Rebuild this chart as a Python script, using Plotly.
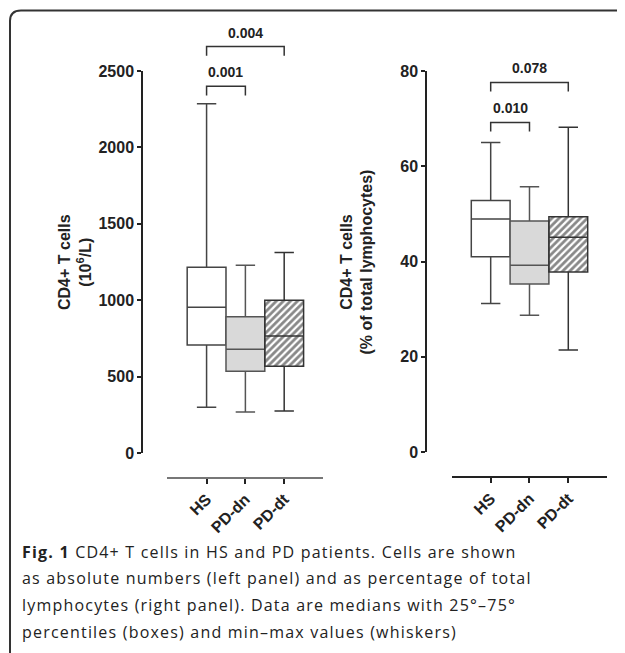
import plotly.graph_objects as go

W, H = 625, 653
OFF = 8  # page body margin in the browser

# ---------------- data ----------------
groups = ["HS", "PD-dn", "PD-dt"]

# left panel: CD4+ T cells (10^6/L)
abs_min = [299, 268, 275]
abs_q1 = [707, 535, 568]
abs_med = [954, 679, 766]
abs_q3 = [1216, 891, 1000]
abs_max = [2285, 1229, 1312]

# right panel: CD4+ T cells (% of total lymphocytes)
pct_min = [31.2, 28.7, 21.4]
pct_q1 = [41.0, 35.3, 37.8]
pct_med = [48.9, 39.2, 45.1]
pct_q3 = [52.8, 48.5, 49.4]
pct_max = [65.0, 55.7, 68.2]

# significance brackets
abs_pairs = [("HS", "PD-dn"), ("HS", "PD-dt")]
abs_pvals = ["0.001", "0.004"]
abs_levels = [2400, 2660]
pct_pairs = [("HS", "PD-dn"), ("HS", "PD-dt")]
pct_pvals = ["0.010", "0.078"]
pct_levels = [69.2, 77.6]

abs_ticks = [0, 500, 1000, 1500, 2000, 2500]
pct_ticks = [0, 20, 40, 60, 80]

caption_lines = [
    "<b>Fig. 1</b> CD4+ T cells in HS and PD patients. Cells are shown",
    "as absolute numbers (left panel) and as percentage of total",
    "lymphocytes (right panel). Data are medians with 25°–75°",
    "percentiles (boxes) and min–max values (whiskers)",
]

# ---------------- styling ----------------
FONT = "Liberation Sans, Arial, sans-serif"
fills = ["white", "#d9d9d9", "rgba(0,0,0,0)"]
lines = ["#444444", "#555555", "#333333"]


def px(x):
    return (x - OFF) / W


def py(y):
    return (H - (y - OFF)) / H


fig = go.Figure()


def add_panel(n, mins, q1s, meds, q3s, maxs, pairs, pvals, levels, leg):
    xref, yref = ("x", "y") if n == 1 else ("x%d" % n, "y%d" % n)
    bx, by = "x%d" % (n + 2), "y%d" % (n + 2)
    for i, g in enumerate(groups):
        if i == 2:
            fig.add_trace(go.Bar(
                x=[g], y=[q3s[i] - q1s[i]], base=[q1s[i]], width=1.0,
                marker=dict(color="white", line=dict(width=0),
                            pattern=dict(shape="/", fgcolor="#111111",
                                         bgcolor="white", size=5, solidity=0.55)),
                xaxis=xref, yaxis=yref, showlegend=False, hoverinfo="skip"))
        fig.add_trace(go.Box(
            x=[g], q1=[q1s[i]], median=[meds[i]], q3=[q3s[i]],
            lowerfence=[mins[i]], upperfence=[maxs[i]],
            fillcolor=fills[i], line=dict(color=lines[i], width=1.5),
            whiskerwidth=0.5, width=1.0, boxpoints=False,
            xaxis=xref, yaxis=yref, showlegend=False))
    # brackets live on an invisible twin subplot that shares the same scale
    for (a, b), p, lvl in zip(pairs, pvals, levels):
        fig.add_trace(go.Scatter(
            x=[a, a, b, b], y=[lvl - leg, lvl, lvl, lvl - leg],
            mode="lines", line=dict(color="#333333", width=1.5),
            xaxis=bx, yaxis=by, showlegend=False, hoverinfo="skip"))
        mid = (groups.index(a) + groups.index(b)) / 2
        fig.add_annotation(x=mid, y=lvl, xref=bx, yref=by, text="<b>%s</b>" % p,
                           showarrow=False, yanchor="bottom", yshift=4,
                           font=dict(family=FONT, size=14, color="#222222"))


add_panel(1, abs_min, abs_q1, abs_med, abs_q3, abs_max,
          abs_pairs, abs_pvals, abs_levels, 60)
add_panel(2, pct_min, pct_q1, pct_med, pct_q3, pct_max,
          pct_pairs, pct_pvals, pct_levels, 1.9)

tickfont = dict(family=FONT, size=16, color="#222222", weight="bold")
xtickfont = dict(family=FONT, size=16, color="#222222", weight="bold")

common_x = dict(type="category", categoryorder="array", categoryarray=groups,
                showline=True, linewidth=1.5, ticks="outside", ticklen=5,
                tickwidth=1.5, tickcolor="#222222", tickangle=-45,
                tickfont=xtickfont, showgrid=False, zeroline=False,
                anchor="free", fixedrange=True, automargin=False)
common_y = dict(showline=True, linewidth=1.5, linecolor="#222222",
                ticks="outside", ticklen=4, tickwidth=1.5, tickcolor="#222222",
                tickfont=tickfont, showgrid=False, zeroline=False,
                anchor="free", fixedrange=True, automargin=False)

L_X = [px(167), px(323)]
R_X = [px(451.7), px(606.7)]
L_BOT, L_TOP = 453, 71
R_BOT, R_TOP = 452, 71
TOPLIM = OFF  # top of the page in figure pixels


def ext(vmax, bot, top):
    return vmax * (bot - TOPLIM) / (bot - top)


fig.update_layout(
    width=W, height=H,
    margin=dict(l=0, r=0, t=0, b=0, pad=0),
    paper_bgcolor="white", plot_bgcolor="rgba(0,0,0,0)",
    showlegend=False, boxgap=0, bargap=0,
    xaxis=dict(common_x, domain=L_X, range=[-1.02, 3.0],
               position=py(478), linecolor="#777777"),
    yaxis=dict(common_y, domain=[py(L_BOT), py(L_TOP)], range=[0, 2500],
               tickvals=abs_ticks, position=px(142)),
    xaxis2=dict(common_x, domain=R_X, range=[-1.005, 2.99],
                position=py(477.3), linecolor="#222222"),
    yaxis2=dict(common_y, domain=[py(R_BOT), py(R_TOP)], range=[0, 80],
                tickvals=pct_ticks, position=px(426)),
    # invisible twins with the same scale, extended upward for the brackets
    xaxis3=dict(type="category", categoryorder="array", categoryarray=groups,
                domain=L_X, range=[-1.02, 3.0], visible=False, anchor="y3",
                fixedrange=True),
    yaxis3=dict(domain=[py(L_BOT), 1.0], range=[0, ext(2500, L_BOT, L_TOP)],
                visible=False, anchor="x3", fixedrange=True),
    xaxis4=dict(type="category", categoryorder="array", categoryarray=groups,
                domain=R_X, range=[-1.005, 2.99], visible=False, anchor="y4",
                fixedrange=True),
    yaxis4=dict(domain=[py(R_BOT), 1.0], range=[0, ext(80, R_BOT, R_TOP)],
                visible=False, anchor="x4", fixedrange=True),
)

# axis titles
fig.add_annotation(x=px(54), y=py(262), xref="paper", yref="paper",
                   text="<b>CD4+ T cells<br>(10<sup>6</sup>/L)</b>", textangle=-90,
                   showarrow=False, font=dict(family=FONT, size=16, color="#222222"))
fig.add_annotation(x=px(356.5), y=py(262), xref="paper", yref="paper",
                   text="<b>CD4+ T cells<br>(% of total lymphocytes)</b>", textangle=-90,
                   showarrow=False, font=dict(family=FONT, size=16, color="#222222"))

# caption
for i, t in enumerate(caption_lines):
    fig.add_annotation(x=px(20), y=py(551.7 + 26.7 * i), xref="paper", yref="paper",
                       text='<span style="letter-spacing:1.2px">%s</span>' % t,
                       showarrow=False, xanchor="left", yanchor="middle",
                       align="left", font=dict(family="Open Sans", size=16, color="#222222"))

# outer frame (rounded top-left corner)
fig.add_shape(type="path", xref="paper", yref="paper",
              path="M %f,%f L %f,%f Q %f,%f %f,%f L %f,%f" % (
                  px(10), py(680), px(10), py(21), px(10), py(10.5), px(21), py(10.5),
                  px(660), py(10.5)),
              line=dict(color="#333333", width=2))

fig.write_html("out.html")
